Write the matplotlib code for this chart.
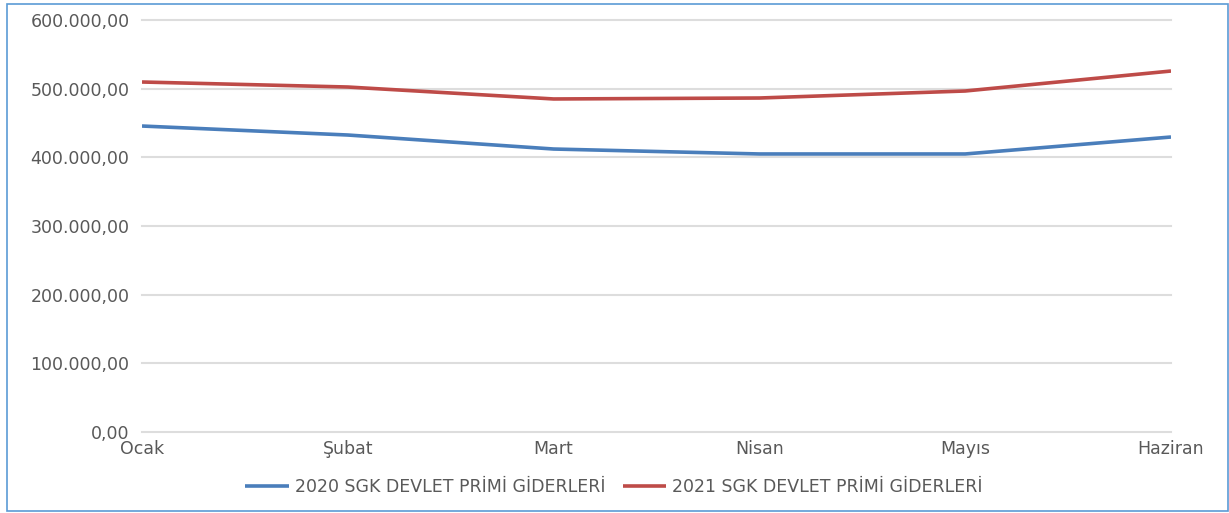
import matplotlib
matplotlib.use("Agg")
import matplotlib.pyplot as plt
from matplotlib.patches import Rectangle
from matplotlib.ticker import FuncFormatter

months = ["Ocak", "Şubat", "Mart", "Nisan", "Mayıs", "Haziran"]
series_2020 = [445600, 432500, 412100, 404900, 404900, 429600]
series_2021 = [509700, 502400, 485000, 486400, 496600, 525700]
label_2020 = "2020 SGK DEVLET PRİMİ GİDERLERİ"
label_2021 = "2021 SGK DEVLET PRİMİ GİDERLERİ"
yticks = [0, 100000, 200000, 300000, 400000, 500000, 600000]

W, H = 1229, 513
fig = plt.figure(figsize=(W / 100, H / 100), dpi=100)
ax = fig.add_axes([142 / W, 1 - 432 / H, (1171 - 142) / W, (432 - 20) / H])

x = list(range(len(months)))
ax.plot(x, series_2020, color="#4A7EBB", lw=2.6, label=label_2020, solid_capstyle="butt")
ax.plot(x, series_2021, color="#BE4B48", lw=2.6, label=label_2021, solid_capstyle="butt")

ax.set_xlim(0, len(months) - 1)
ax.set_ylim(0, 600000)
ax.set_yticks(yticks)

def fmt(v, pos):
    s = f"{int(v):,}".replace(",", ".")
    return s + ",00"

ax.yaxis.set_major_formatter(FuncFormatter(fmt))
ax.set_xticks(x)
ax.set_xticklabels(months)
ax.tick_params(axis="y", length=0, pad=9, labelsize=12.5, labelcolor="#595959")
ax.tick_params(axis="x", length=0, pad=6, labelsize=12.5, labelcolor="#595959")
ax.grid(axis="y", color="#DDDDDD", lw=1.5)
for gl in ax.get_ygridlines():
    gl.set_clip_on(False)
ax.set_axisbelow(True)
for s in ax.spines.values():
    s.set_visible(False)

leg = fig.legend(loc="center", bbox_to_anchor=(614 / W, 1 - 487 / H), ncol=2,
                 frameon=False, fontsize=12.5, handlelength=2.5, handletextpad=0.35,
                 columnspacing=1.0, labelcolor="#595959")

fig.patches.append(Rectangle((7 / W, 1 - 511 / H), (1228 - 7) / W, (511 - 4) / H,
                             transform=fig.transFigure, fill=False,
                             edgecolor="#5B9BD5", lw=1.2))

fig.savefig("out.png", dpi=100)
